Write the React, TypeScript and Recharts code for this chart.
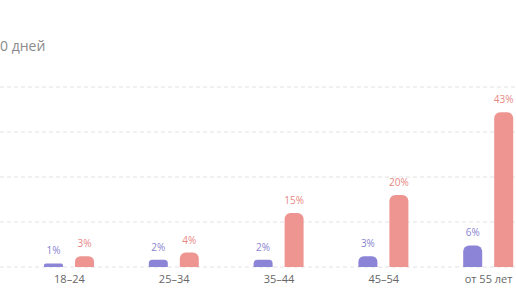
import { BarChart, Bar, XAxis, YAxis, CartesianGrid, LabelList } from 'recharts'

const ageGroups = ['18–24', '25–34', '35–44', '45–54', 'от 55 лет']
const violetShare = [1, 2, 2, 3, 6]
const coralShare = [3, 4, 15, 20, 43]
const yTicks = [0, 12.5, 25, 37.5, 50]

const data = ageGroups.map((group, i) => ({
  group,
  violet: violetShare[i],
  coral: coralShare[i],
}))

const pct = (v: any) => `${v}%`

const App = () => {
  return (
    <div
      style={{
        position: 'absolute',
        left: 0,
        top: 0,
        width: 516,
        height: 289,
        overflow: 'hidden',
        background: '#fff',
        fontFamily: '"Open Sans", sans-serif',
      }}
    >
      {/* title is cut off by the frame, only the tail is visible */}
      <div
        style={{
          position: 'absolute',
          left: 0,
          top: 36,
          fontSize: 14,
          color: '#8a8a8a',
        }}
      >
        0 дней
      </div>
      <BarChart
        width={541}
        height={289}
        data={data}
        margin={{ top: 87, right: 0, left: 0, bottom: 0 }}
        barSize={19}
        barGap={12}
      >
        <CartesianGrid vertical={false} stroke="#e2e2e2" strokeDasharray="4 3" />
        <XAxis
          dataKey="group"
          axisLine={false}
          tickLine={false}
          height={22}
          padding={{ left: 17, right: 0 }}
          tick={{ fill: '#666', fontSize: 11 }}
        />
        <YAxis hide domain={[0, 50]} ticks={yTicks} />
        <Bar dataKey="violet" fill="#8c84d6" radius={[6, 6, 0, 0]} isAnimationActive={false}>
          <LabelList dataKey="violet" position="top" offset={9} formatter={pct} fill="#8a84d0" fontSize={10} />
        </Bar>
        <Bar dataKey="coral" fill="#ee9592" radius={[6, 6, 0, 0]} isAnimationActive={false}>
          <LabelList dataKey="coral" position="top" offset={9} formatter={pct} fill="#e98883" fontSize={10} />
        </Bar>
      </BarChart>
    </div>
  )
}

export default App
